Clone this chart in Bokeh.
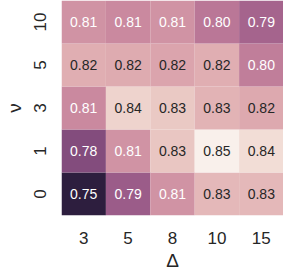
import numpy as np
from bokeh.plotting import figure
from bokeh.models import ColumnDataSource, LinearColorMapper
from bokeh.transform import transform
from bokeh.embed import file_html
from bokeh.resources import INLINE

# Data
delta_labels = ["3", "5", "8", "10", "15"]
nu_labels = ["0", "1", "3", "5", "10"]
row_nu0 = [0.750, 0.788, 0.813, 0.828, 0.828]
row_nu1 = [0.779, 0.813, 0.833, 0.850, 0.842]
row_nu3 = [0.809, 0.838, 0.834, 0.826, 0.822]
row_nu5 = [0.824, 0.823, 0.820, 0.824, 0.804]
row_nu10 = [0.813, 0.809, 0.813, 0.801, 0.792]
rows = [row_nu0, row_nu1, row_nu3, row_nu5, row_nu10]


def cubehelix(x, start=0.0, rot=0.4, gamma=1.0, hue=0.8):
    xg = x ** gamma
    a = hue * xg * (1 - xg) / 2
    phi = 2 * np.pi * (start / 3 + rot * x)
    r = xg + a * (-0.14861 * np.cos(phi) + 1.78277 * np.sin(phi))
    g = xg + a * (-0.29227 * np.cos(phi) - 0.90649 * np.sin(phi))
    b = xg + a * (1.97294 * np.cos(phi))
    return np.clip(np.stack([r, g, b], axis=-1), 0, 1)


xs = np.linspace(0.15, 0.95, 256)  # dark -> light
rgb = cubehelix(xs)
palette = ["#%02x%02x%02x" % tuple(int(round(c * 255)) for c in col) for col in rgb]

xcat, ycat, vals = [], [], []
for ny, row in zip(nu_labels, rows):
    for dx, v in zip(delta_labels, row):
        xcat.append(dx)
        ycat.append(ny)
        vals.append(v)
vmin, vmax = min(vals), max(vals)


def lum(c):
    c = np.where(c <= 0.03928, c / 12.92, ((c + 0.055) / 1.055) ** 2.4)
    return 0.2126 * c[0] + 0.7152 * c[1] + 0.0722 * c[2]


tcolors = []
for v in vals:
    t = (v - vmin) / (vmax - vmin)
    idx = int(round(t * 255))
    tcolors.append("#262626" if lum(rgb[idx]) > 0.408 else "white")

src = ColumnDataSource(dict(x=xcat, y=ycat, v=vals, lab=["%.2f" % v for v in vals], tc=tcolors))
mapper = LinearColorMapper(palette=palette, low=vmin, high=vmax)

p = figure(x_range=delta_labels, y_range=nu_labels, output_backend="svg", toolbar_location=None,
           frame_width=222, frame_height=215, min_border_left=46, min_border_top=0,
           min_border_right=0, min_border_bottom=47)
p.rect(x="x", y="y", width=1, height=1, source=src, fill_color=transform("v", mapper),
       line_color=None)
p.text(x="x", y="y", text="lab", source=src, text_color="tc", text_align="center",
       text_baseline="middle", text_font_size="14px", text_font={"value": "Liberation Sans"})

p.outline_line_color = None
p.grid.grid_line_color = None
for ax in (p.xaxis[0], p.yaxis[0]):
    ax.axis_line_color = None
    ax.major_tick_line_color = None
    ax.minor_tick_line_color = None
    ax.major_label_text_font = "Liberation Sans"
    ax.major_label_text_font_size = "17px"
    ax.major_label_text_color = "#262626"
    ax.axis_label_text_font = "Liberation Sans"
    ax.axis_label_text_font_size = "19px"
    ax.axis_label_text_font_style = "normal"
    ax.axis_label_text_color = "#262626"
p.xaxis.axis_label = "Δ"
p.yaxis.axis_label = "ν"
p.xaxis.major_label_standoff = 10
p.xaxis.axis_label_standoff = 3
p.yaxis.major_label_orientation = "vertical"
p.yaxis.major_label_standoff = 10
p.yaxis.axis_label_standoff = 6

open("out.html", "w").write(file_html(p, INLINE))
